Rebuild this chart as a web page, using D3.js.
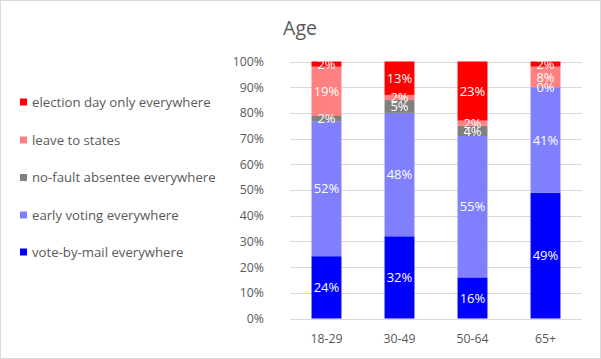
<!DOCTYPE html>
<html><head><meta charset="utf-8">
<script src="https://cdn.jsdelivr.net/npm/d3@7"></script>
<style>body{margin:0;background:#fff}svg{display:block}</style>
</head><body><svg id="c" width="601" height="359"></svg>
<script>
const categories = ["18-29","30-49","50-64","65+"];
const seriesNames = ["vote-by-mail everywhere","early voting everywhere","no-fault absentee everywhere","leave to states","election day only everywhere"];
const voteByMail = [24,32,16,49];
const earlyVoting = [52,48,55,41];
const noFault = [2,5,4,0];
const leaveToStates = [19,2,2,8];
const electionDay = [2,13,23,2];
const colors = ["#0000FF","#8080FF","#808080","#FF8080","#FF0000"];
const yTicks = [0,0.1,0.2,0.3,0.4,0.5,0.6,0.7,0.8,0.9,1];

const seriesValues = [voteByMail, earlyVoting, noFault, leaveToStates, electionDay];
const rows = categories.map((c,i)=>{const r={cat:c}; seriesNames.forEach((s,j)=>r[s]=seriesValues[j][i]); return r;});
const stack = d3.stack().keys(seriesNames).offset(d3.stackOffsetExpand)(rows);

const svg = d3.select("#c");
const font = "'Open Sans', sans-serif";
svg.append("rect").attr("x",0.5).attr("y",0.5).attr("width",600).attr("height",358).attr("fill","#fff").attr("stroke","#d9d9d9");

const x = d3.scaleBand().domain(categories).range([290,582]).paddingInner(0.59).paddingOuter(0.295);
const y = d3.scaleLinear().domain([0,1]).range([318.5,61.5]);

svg.append("text").attr("x",300).attr("y",35).attr("text-anchor","middle").attr("font-family",font).attr("font-size",19.5).attr("fill","#595959").text("Age");

// gridlines
svg.append("g").selectAll("line").data(yTicks).join("line")
  .attr("x1",290).attr("x2",582).attr("y1",d=>Math.round(y(d))+0.5).attr("y2",d=>Math.round(y(d))+0.5)
  .attr("stroke","#d9d9d9").attr("stroke-width",1);

const yAxis = d3.axisLeft(y).tickValues(yTicks).tickFormat(d3.format(".0%")).tickSize(0).tickPadding(0);
const ya = svg.append("g").attr("transform","translate(264,0)").call(yAxis);
ya.select(".domain").remove();
ya.selectAll("text").attr("font-family",font).attr("font-size",12.3).attr("fill","#595959");

const xAxis = d3.axisBottom(x).tickSize(0).tickPadding(0);
const xa = svg.append("g").attr("transform","translate(0,334)").call(xAxis);
xa.select(".domain").remove();
xa.selectAll("text").attr("font-family",font).attr("font-size",12.3).attr("fill","#595959");

const g = svg.append("g");
stack.forEach((s,j)=>{
  g.append("g").selectAll("rect").data(s).join("rect")
    .attr("x",d=>x(d.data.cat)).attr("width",x.bandwidth())
    .attr("y",d=>y(d[1])).attr("height",d=>y(d[0])-y(d[1]))
    .attr("fill",colors[j]);
});
stack.forEach((s,j)=>{
  g.append("g").selectAll("text").data(s).join("text")
    .attr("x",d=>x(d.data.cat)+x.bandwidth()/2)
    .attr("y",d=>(y(d[0])+y(d[1]))/2)
    .attr("dy","0.36em").attr("text-anchor","middle")
    .attr("font-family",font).attr("font-size",13).attr("fill","#fff")
    .text(d=>d.data[s.key]+"%");
});

// legend
const legendOrder = [4,3,2,1,0];
const legendY = [102,140,177.5,215,252];
const lg = svg.append("g");
legendOrder.forEach((j,k)=>{
  lg.append("rect").attr("x",20).attr("y",legendY[k]-3.5).attr("width",7).attr("height",7).attr("fill",colors[j]);
  lg.append("text").attr("x",32).attr("y",legendY[k]).attr("dy","0.36em")
    .attr("font-family",font).attr("font-size",13.2).attr("fill","#595959").text(seriesNames[j]);
});
// bottom axis line
svg.append("line").attr("x1",290).attr("x2",582).attr("y1",Math.round(y(0))+0.5).attr("y2",Math.round(y(0))+0.5).attr("stroke","#d9d9d9");
</script></body></html>
